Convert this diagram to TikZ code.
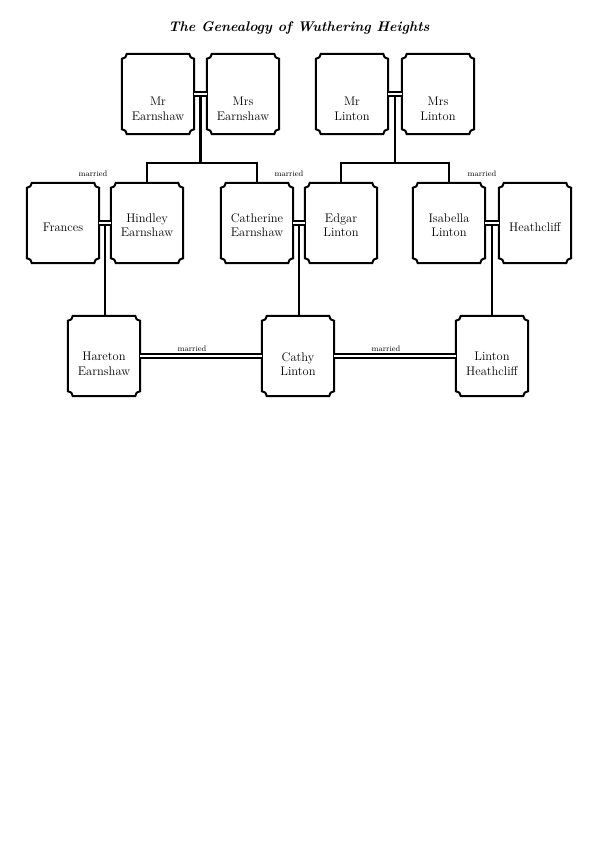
\documentclass[tikz,border=0pt]{standalone}
\usetikzlibrary{calc,positioning,backgrounds}

% frame with hollowed corners round a named node
\def\crad{5pt}
\newcommand\famframe[2][]{%
  \draw[#1] ($(#2.north west)+(\crad,0)$) -- ($(#2.north east)-(\crad,0)$)
    arc[start angle=180,end angle=270,radius=\crad]
    -- ($(#2.south east)+(0,\crad)$)
    arc[start angle=90,end angle=180,radius=\crad]
    -- ($(#2.south west)+(\crad,0)$)
    arc[start angle=0,end angle=90,radius=\crad]
    -- ($(#2.north west)-(0,\crad)$)
    arc[start angle=270,end angle=360,radius=\crad] -- cycle;}

\begin{document}
\begin{tikzpicture}[x=1pt,y=1pt,
    person/.style={minimum width=72pt,minimum height=80pt,inner sep=0pt},
    who/.style={align=center,inner sep=0pt,font=\fontsize{12.5}{14.5}\selectfont},
    kin/.style={line width=2.4pt},
    wed/.style={double,line width=1.4pt,double distance=2.6pt},
    married/.style={font=\fontsize{8}{9}\selectfont,inner sep=1pt}]
  \useasboundingbox (0,0) rectangle (602,-848);
  \node[font=\fontsize{14}{17}\selectfont\bfseries\itshape] (title) at (299,-28)
    {The Genealogy of Wuthering Heights};
  \foreach \n/\x/\y/\dy/\name in {
      mre/158/94/15/{Mr\\Earnshaw},
      mrse/243/94/15/{Mrs\\Earnshaw},
      mrl/352/94/15/{Mr\\Linton},
      mrsl/438/94/15/{Mrs\\Linton},
      fra/63/223/4/{Frances},
      hin/147/223/2/{Hindley\\Earnshaw},
      cat/257/223/2/{Catherine\\Earnshaw},
      edg/341/223/2/{Edgar\\Linton},
      isa/449/223/2/{Isabella\\Linton},
      hea/535/223/4/{Heathcliff},
      har/104/356/8/{Hareton\\Earnshaw},
      cal/298/356/8/{Cathy\\Linton},
      lih/492/356/8/{Linton\\Heathcliff}} {
    \node[person] (\n) at (\x,-\y) {};
    \node[who] (\n-t) at (\x,-\y-\dy) {\name};
  }
  \begin{scope}[on background layer]
    \foreach \n in {mre,mrse,mrl,mrsl,fra,hin,cat,edg,isa,hea,har,cal,lih} {
      \famframe[draw=black!75,line width=0.9pt,shift={(2.4,-2.4)}]{\n}
      \famframe[fill=white,draw=black,line width=2pt]{\n}
    }
  \end{scope}

  % first generation
  \draw[wed] (mre.east) -- (mrse.west);
  \draw[wed] (mrl.east) -- (mrsl.west);
  \coordinate (ew) at ($(mre.east)!0.5!(mrse.west)$);
  \coordinate (lw) at ($(mrl.east)!0.5!(mrsl.west)$);
  \coordinate (ebus) at ($(ew)+(0,-69)$);
  \coordinate (lbus) at ($(lw)+(0,-69)$);
  \draw[kin] ($(ew)+(0,-2)$) -- (ebus);
  \draw[kin] (hin.north) |- (ebus) -| (cat.north);
  \draw[kin] ($(lw)+(0,-2)$) -- (lbus);
  \draw[kin] (edg.north) |- (lbus) -| (isa.north);

  % second generation
  \draw[wed] (fra.east) -- (hin.west);
  \draw[wed] (cat.east) -- (edg.west);
  \draw[wed] (isa.east) -- (hea.west);
  \coordinate (fh) at ($(fra.east)!0.5!(hin.west)$);
  \coordinate (ce) at ($(cat.east)!0.5!(edg.west)$);
  \coordinate (ih) at ($(isa.east)!0.5!(hea.west)$);
  \node[married] (m-fh) at ($(fh)+(-12,49)$) {married};
  \node[married] (m-ce) at ($(ce)+(-10,49)$) {married};
  \node[married] (m-ih) at ($(ih)+(-10,49)$) {married};
  \draw[kin] ($(fh)+(0,-2)$) -- (fh |- har.north);
  \draw[kin] ($(ce)+(0,-2)$) -- (ce |- cal.north);
  \draw[kin] ($(ih)+(0,-2)$) -- (ih |- lih.north);

  % third generation
  \draw[wed] (har.east) -- (cal.west)
    node[married, midway, above=3pt, xshift=-9pt] (m-hc) {married};
  \draw[wed] (cal.east) -- (lih.west)
    node[married, midway, above=3pt, xshift=-9pt] (m-cl) {married};
\end{tikzpicture}
\end{document}
